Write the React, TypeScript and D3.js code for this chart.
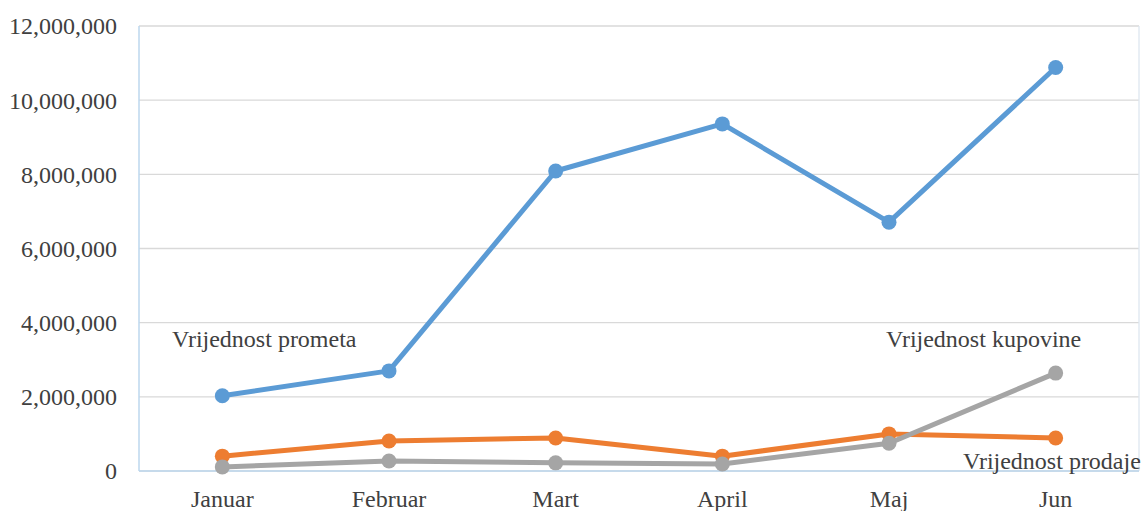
import React from "react";
import * as d3 from "d3";

const months = ["Januar", "Februar", "Mart", "April", "Maj", "Jun"];
const prometa = [2030000, 2700000, 8090000, 9360000, 6710000, 10880000];
const prodaje = [400000, 810000, 890000, 400000, 1000000, 890000];
const kupovine = [110000, 270000, 220000, 190000, 750000, 2640000];
const yTicks = [0, 2000000, 4000000, 6000000, 8000000, 10000000, 12000000];

const series = [
  { name: "Vrijednost prometa", values: prometa, color: "#5b9bd5" },
  { name: "Vrijednost prodaje", values: prodaje, color: "#ed7d31" },
  { name: "Vrijednost kupovine", values: kupovine, color: "#a5a5a5" },
];

const W = 1143;
const H = 511;
const left = 139;
const right = 1139;
const top = 26;
const bottom = 471;
const font = "Liberation Serif, Times New Roman, serif";
const textColor = "#404040";
const fs = 24;

export default function App() {
  const x = d3.scaleBand().domain(months).range([left, right]);
  const y = d3.scaleLinear().domain([0, 12000000]).range([bottom, top]);
  const cx = (m: string) => (x(m) as number) + x.bandwidth() / 2;
  const fmt = d3.format(",");

  const line = d3
    .line<number>()
    .x((_, i) => cx(months[i]))
    .y((d) => y(d));

  return (
    <svg
      width={W}
      height={H}
      style={{ position: "absolute", left: 0, top: 0, background: "#fff" }}
    >
      {/* grid */}
      {yTicks.map((t) => (
        <line
          key={t}
          x1={left}
          x2={right}
          y1={y(t)}
          y2={y(t)}
          stroke="#d9d9d9"
          strokeWidth={1.3}
        />
      ))}
      <line x1={right} x2={right} y1={top} y2={bottom} stroke="#dde6f0" strokeWidth={1.3} />
      <line x1={left} x2={left} y1={top} y2={bottom} stroke="#bdd7ee" strokeWidth={1.5} />
      <line x1={left} x2={right} y1={bottom} y2={bottom} stroke="#bdd7ee" strokeWidth={1.5} />

      {/* y labels */}
      {yTicks.map((t) => (
        <text
          key={t}
          x={117}
          y={y(t)}
          dy="0.35em"
          textAnchor="end"
          fontFamily={font}
          fontSize={fs}
          fill={textColor}
        >
          {fmt(t)}
        </text>
      ))}

      {/* x labels */}
      {months.map((m) => (
        <text
          key={m}
          x={cx(m)}
          y={507}
          textAnchor="middle"
          fontFamily={font}
          fontSize={fs}
          fill={textColor}
        >
          {m}
        </text>
      ))}

      {/* lines */}
      {series.map((s) => (
        <g key={s.name}>
          <path
            d={line(s.values) || ""}
            fill="none"
            stroke={s.color}
            strokeWidth={5}
            strokeLinejoin="round"
          />
          {s.values.map((v, i) => (
            <circle key={i} cx={cx(months[i])} cy={y(v)} r={7.5} fill={s.color} />
          ))}
        </g>
      ))}

      {/* series labels */}
      <text x={172} y={347} fontFamily={font} fontSize={fs} fill={textColor}>
        Vrijednost prometa
      </text>
      <text x={886} y={347} fontFamily={font} fontSize={fs} fill={textColor}>
        Vrijednost kupovine
      </text>
      <text x={963} y={469} fontFamily={font} fontSize={fs} fill={textColor}>
        Vrijednost prodaje
      </text>
    </svg>
  );
}
